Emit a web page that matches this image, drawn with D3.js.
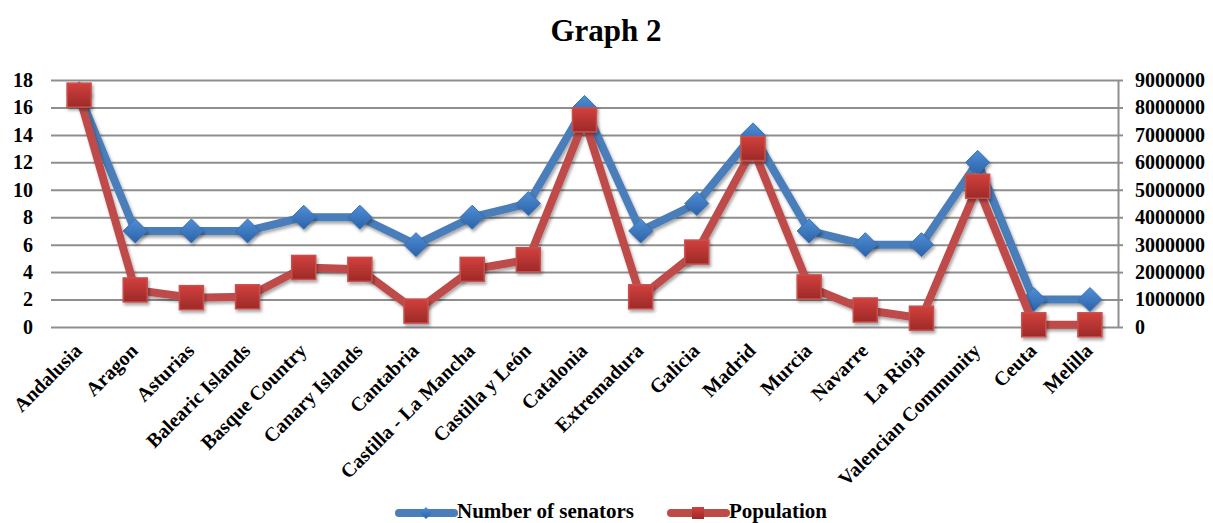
<!DOCTYPE html>
<html><head><meta charset="utf-8">
<script src="https://cdn.jsdelivr.net/npm/d3@7"></script>
<style>
body{margin:0;background:#fff;}
svg{display:block;}
text{font-family:"Liberation Serif","Times New Roman",serif;font-weight:bold;fill:#000;}
</style>
</head><body>
<svg id="chart" width="1213" height="523"></svg>
<script>
const title = "Graph 2";
const categories = ["Andalusia","Aragon","Asturias","Balearic Islands","Basque Country","Canary Islands","Cantabria","Castilla - La Mancha","Castilla y León","Catalonia","Extremadura","Galicia","Madrid","Murcia","Navarre","La Rioja","Valencian Community","Ceuta","Melilla"];
const senators = [17,7,7,7,8,8,6,8,9,16,7,9,14,7,6,6,12,2,2];
const population = [8450000,1350000,1070000,1100000,2170000,2100000,580000,2100000,2450000,7550000,1100000,2730000,6500000,1460000,620000,320000,5130000,80000,80000];
const leftTicks = [0,2,4,6,8,10,12,14,16,18];
const rightTicks = [0,1000000,2000000,3000000,4000000,5000000,6000000,7000000,8000000,9000000];
const seriesNames = ["Number of senators","Population"];

const svg = d3.select("#chart");
const L = 51, R = 1118, T = 80, B = 327;

const x = d3.scalePoint().domain(categories).range([L, R]).padding(0.5);
const yL = d3.scaleLinear().domain([0, 18]).range([B, T]);
const yR = d3.scaleLinear().domain([0, 9000000]).range([B, T]);

const defs = svg.append("defs");
const gb = defs.append("linearGradient").attr("id","gBlue").attr("x1",0).attr("y1",0).attr("x2",0).attr("y2",1);
gb.append("stop").attr("offset","0%").attr("stop-color","#4f8fd6");
gb.append("stop").attr("offset","100%").attr("stop-color","#2c62a8");
const gr = defs.append("linearGradient").attr("id","gRed").attr("x1",0).attr("y1",0).attr("x2",0).attr("y2",1);
gr.append("stop").attr("offset","0%").attr("stop-color","#d2403d");
gr.append("stop").attr("offset","100%").attr("stop-color","#9c2a28");
const f = defs.append("filter").attr("id","shadow").attr("x","-50%").attr("y","-50%").attr("width","200%").attr("height","200%");
f.append("feDropShadow").attr("dx",1.5).attr("dy",2.5).attr("stdDeviation",1.8).attr("flood-color","#000").attr("flood-opacity",0.35);

// title
svg.append("text").attr("x", 606).attr("y", 41).attr("text-anchor","middle")
  .style("font-size","31px").text(title);

// left axis with gridlines
const gl = svg.append("g").attr("transform",`translate(${L},0)`)
  .call(d3.axisLeft(yL).tickValues(leftTicks).tickSizeInner(-(R-L)).tickSizeOuter(0).tickPadding(18));
gl.select(".domain").remove();
gl.selectAll(".tick line").attr("stroke","#8e8e8e").attr("stroke-width",2);
gl.selectAll(".tick text").style("font-size","20px").style("font-family","'Liberation Serif','Times New Roman',serif").style("font-weight","bold");

// right axis
const gR = svg.append("g").attr("transform",`translate(${R},0)`)
  .call(d3.axisRight(yR).tickValues(rightTicks).tickFormat(d3.format("d")).tickSizeInner(5).tickSizeOuter(0).tickPadding(12));
gR.select(".domain").attr("stroke","#8e8e8e").attr("stroke-width",2);
gR.selectAll(".tick line").attr("stroke","#8e8e8e").attr("stroke-width",2);
gR.selectAll(".tick text").style("font-size","20px").style("font-family","'Liberation Serif','Times New Roman',serif").style("font-weight","bold");

// x labels
svg.append("g").selectAll("text").data(categories).join("text")
  .attr("transform", d => `translate(${x(d)+4},352) rotate(-45)`)
  .attr("text-anchor","end")
  .style("font-size","20px")
  .text(d => d);

const line = d3.line();

// senators series
const ptsS = categories.map((c,i) => [x(c), yL(senators[i])]);
svg.append("path").attr("d", line(ptsS)).attr("fill","none").attr("stroke","#4a7ebb")
  .attr("stroke-width",8).attr("stroke-linejoin","round").attr("stroke-linecap","round").attr("filter","url(#shadow)");
svg.append("g").selectAll("path").data(ptsS).join("path")
  .attr("d", d => `M${d[0]},${d[1]-12}L${d[0]+12},${d[1]}L${d[0]},${d[1]+12}L${d[0]-12},${d[1]}Z`)
  .attr("fill","url(#gBlue)").attr("stroke","#3a70b5").attr("stroke-width",1).attr("filter","url(#shadow)");

// population series
const ptsP = categories.map((c,i) => [x(c), yR(population[i])]);
svg.append("path").attr("d", line(ptsP)).attr("fill","none").attr("stroke","#be4b48")
  .attr("stroke-width",8).attr("stroke-linejoin","round").attr("stroke-linecap","round").attr("filter","url(#shadow)");
svg.append("g").selectAll("rect").data(ptsP).join("rect")
  .attr("x", d => d[0]-12).attr("y", d => d[1]-12).attr("width",24).attr("height",24)
  .attr("fill","url(#gRed)").attr("stroke","#c8504c").attr("stroke-width",1.5).attr("filter","url(#shadow)");

// legend
const lg = svg.append("g");
lg.append("line").attr("x1",399).attr("x2",454).attr("y1",513).attr("y2",513)
  .attr("stroke","#4a7ebb").attr("stroke-width",8).attr("stroke-linecap","round");
lg.append("path").attr("d","M426,507L432,513L426,519L420,513Z").attr("fill","url(#gBlue)");
lg.append("text").attr("x",457).attr("y",518).style("font-size","21px").text(seriesNames[0]);
lg.append("line").attr("x1",671).attr("x2",726).attr("y1",513).attr("y2",513)
  .attr("stroke","#be4b48").attr("stroke-width",8).attr("stroke-linecap","round");
lg.append("rect").attr("x",692).attr("y",507).attr("width",12).attr("height",12).attr("fill","url(#gRed)");
lg.append("text").attr("x",729).attr("y",518).style("font-size","21px").text(seriesNames[1]);
</script>
</body></html>
